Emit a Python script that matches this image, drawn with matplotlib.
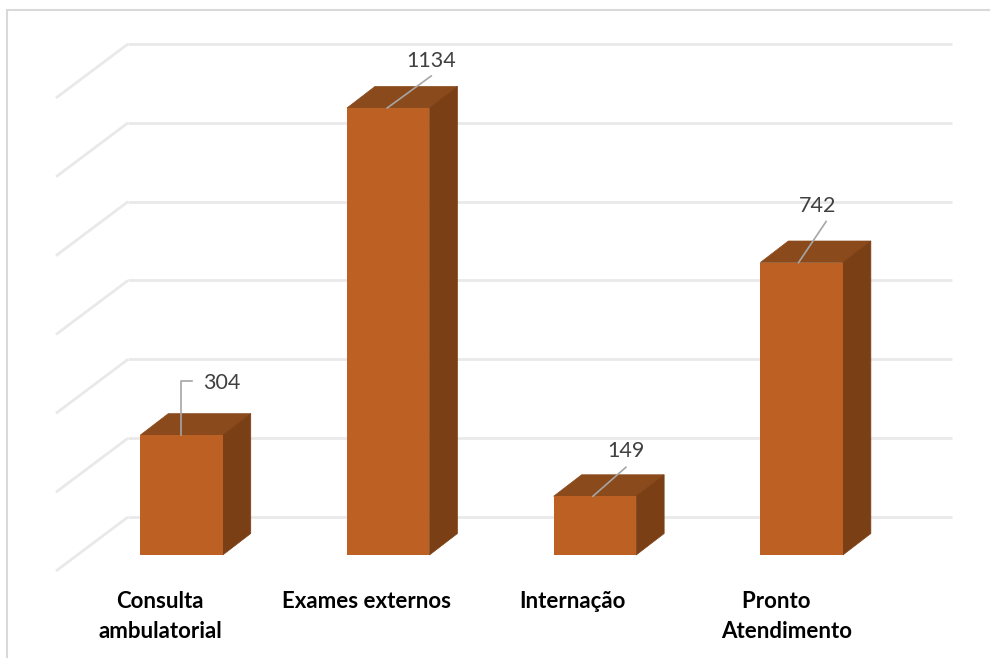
import matplotlib
matplotlib.use("Agg")
import matplotlib.pyplot as plt
from matplotlib.patches import Polygon

categories = ["Consulta\nambulatorial", "Exames externos", "Internação", "Pronto    \nAtendimento"]
values = [304, 1134, 149, 742]
grid_values = [0, 200, 400, 600, 800, 1000, 1200]

# one category step is 206.7 px, one value unit is 0.3942 px
px_x = 1 / 206.7
px_y = 1 / 0.3942
x0 = 181.5

plt.rcParams['font.family'] = ['Lato', 'DejaVu Sans']
fig = plt.figure(figsize=(9.9, 6.58), dpi=100)
ax = fig.add_axes([0, 0, 1, 1])
ax.set_xlim(-x0 * px_x, (990 - x0) * px_x)
ax.set_ylim(-(658 - 555) * px_y, 555 * px_y)
ax.axis('off')

# outer frame, left and top only
ax.plot([7 / 990, 7 / 990, 1], [0, 1 - 9.5 / 658, 1 - 9.5 / 658], color='#d9d9d9', lw=1.5,
        transform=ax.transAxes, solid_joinstyle='miter')

# gridlines on back wall and the diagonal on the left wall
wall_dy = 38 * px_y
front_dy = -16 * px_y
for g in grid_values:
    ax.plot([(128 - x0) * px_x, (952 - x0) * px_x], [g + wall_dy, g + wall_dy],
            color='#e9e9e9', lw=2, solid_capstyle='butt', zorder=1)
    ax.plot([(56 - x0) * px_x, (128 - x0) * px_x], [g + front_dy, g + wall_dy],
            color='#e9e9e9', lw=2, solid_capstyle='butt', zorder=1)

# bars: top and side faces first, then the front from ax.bar over them
bar_w = 82.5 * px_x
dx = 28 * px_x
dy = 21.5 * px_y
x = list(range(len(values)))
for i, v in zip(x, values):
    l = i - bar_w / 2
    r = i + bar_w / 2
    ax.add_patch(Polygon([(l, v), (r, v), (r + dx, v + dy), (l + dx, v + dy)],
                         facecolor='#8a4a1b', edgecolor='#8a4a1b', lw=0.5, zorder=2))
    ax.add_patch(Polygon([(r, 0), (r + dx, dy), (r + dx, v + dy), (r, v)],
                         facecolor='#7a3f15', edgecolor='#7a3f15', lw=0.5, zorder=2))
ax.bar(x, values, width=bar_w, color='#bc6123', linewidth=0, zorder=3)

# data labels and leader lines, offsets in pixels from top centre of bar
leader_ends = [[(0, 54), (11, 54)], [(44, 32)], [(33, 29)], [(27.5, 41)]]
leader_starts = [-0.5, -1, -2, -3]
text_offsets = [(40, 52), (43, 47), (31, 45), (15.5, 57)]
for i, v in zip(x, values):
    pts = [(i + leader_starts[i] * px_x, v)]
    for ox, oy in leader_ends[i]:
        pts.append((i + (leader_starts[i] + ox) * px_x, v + oy * px_y))
    ax.plot([p[0] for p in pts], [p[1] for p in pts], color='#a6a6a6', lw=1.2, zorder=4)
    tx, ty = text_offsets[i]
    ax.text(i + tx * px_x, v + ty * px_y, str(v), ha='center', va='center',
            fontsize=15.5, color='#404040', zorder=5)

# category labels
label_x = [160, 366, 572, 787]
for i, name in enumerate(categories):
    ax.text((label_x[i] - x0) * px_x, -(591 - 555) * px_y, name, ha='center', va='top',
            fontsize=16, fontweight='bold', color='black', linespacing=1.55)

fig.savefig('out.png', dpi=100)
